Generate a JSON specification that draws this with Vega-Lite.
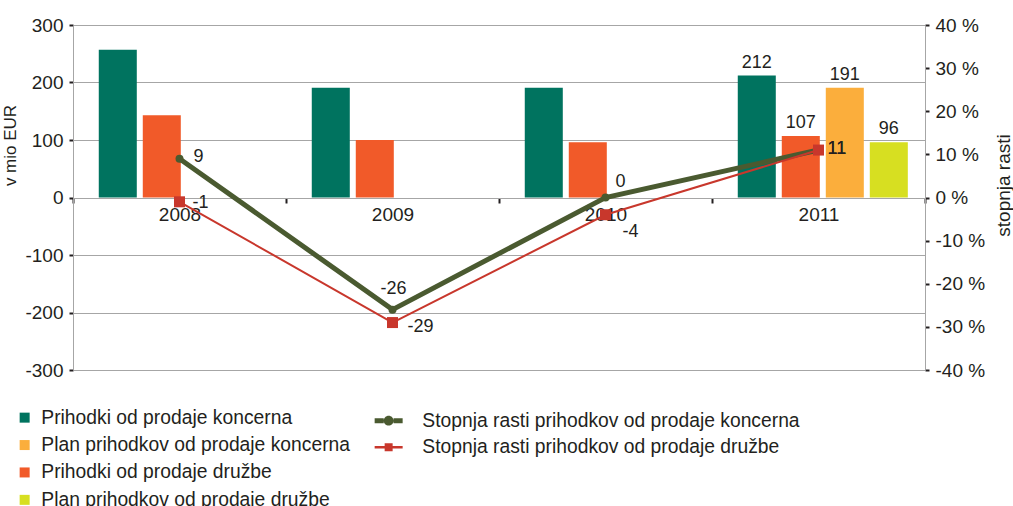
{
  "$schema": "https://vega.github.io/schema/vega-lite/v6.json",
  "width": 852,
  "height": 345,
  "autosize": {"type": "none"},
  "padding": {"left": 73, "top": 25, "right": 88, "bottom": 136},
  "background": "white",
  "config": {
    "font": "Liberation Sans",
    "view": {"stroke": null},
    "text": {"font": "Liberation Sans", "fontSize": 18, "color": "#231F20"},
    "axis": {"labelFont": "Liberation Sans", "titleFont": "Liberation Sans", "labelColor": "#231F20", "titleColor": "#231F20", "titleFontWeight": "normal"},
    "legend": {"labelFont": "Liberation Sans", "labelColor": "#231F20", "labelLimit": 0}
  },
  "datasets": {
    "bars": [
      {"year": "2008", "series": "Prihodki od prodaje koncerna", "value": 257},
      {"year": "2008", "series": "Prihodki od prodaje družbe", "value": 143},
      {"year": "2009", "series": "Prihodki od prodaje koncerna", "value": 191},
      {"year": "2009", "series": "Prihodki od prodaje družbe", "value": 100},
      {"year": "2010", "series": "Prihodki od prodaje koncerna", "value": 191},
      {"year": "2010", "series": "Prihodki od prodaje družbe", "value": 96},
      {"year": "2011", "series": "Prihodki od prodaje koncerna", "value": 212},
      {"year": "2011", "series": "Prihodki od prodaje družbe", "value": 107},
      {"year": "2011", "series": "Plan prihodkov od prodaje koncerna", "value": 191},
      {"year": "2011", "series": "Plan prihodkov od prodaje družbe", "value": 96}
    ],
    "growth": [
      {"year": "2008", "series": "Stopnja rasti prihodkov od prodaje koncerna", "value": 9},
      {"year": "2009", "series": "Stopnja rasti prihodkov od prodaje koncerna", "value": -26},
      {"year": "2010", "series": "Stopnja rasti prihodkov od prodaje koncerna", "value": 0},
      {"year": "2011", "series": "Stopnja rasti prihodkov od prodaje koncerna", "value": 11},
      {"year": "2008", "series": "Stopnja rasti prihodkov od prodaje družbe", "value": -1},
      {"year": "2009", "series": "Stopnja rasti prihodkov od prodaje družbe", "value": -29},
      {"year": "2010", "series": "Stopnja rasti prihodkov od prodaje družbe", "value": -4},
      {"year": "2011", "series": "Stopnja rasti prihodkov od prodaje družbe", "value": 11}
    ]
  },
  "encoding": {
    "x": {
      "field": "year", "type": "nominal",
      "scale": {"paddingInner": 0, "paddingOuter": 0},
      "axis": {
        "title": null, "offset": -172, "labelAngle": 0,
        "domainColor": "#A6A6A6", "domainWidth": 1,
        "tickBand": "extent", "tickColor": "#231F20", "tickSize": 5, "tickWidth": 2,
        "labelPadding": 2, "labelFontSize": 19, "grid": false
      }
    }
  },
  "layer": [
    {
      "data": {"name": "bars"},
      "encoding": {
        "y": {
          "field": "value", "type": "quantitative",
          "scale": {"domain": [-300, 300], "nice": false, "zero": false},
          "axis": {
            "title": "v mio EUR", "titleFontSize": 17, "titleY": 120, "titleX": -63, "titleBaseline": "middle", "titleAlign": "center",
            "values": [-300, -200, -100, 0, 100, 200, 300],
            "labelExpr": "'' + datum.value",
            "grid": true, "gridColor": "#A6A6A6", "gridWidth": 1,
            "domainColor": "#A6A6A6", "tickColor": "#231F20", "tickSize": 4, "tickWidth": 2,
            "labelPadding": 6, "labelFontSize": 19
          }
        },
        "xOffset": {
          "field": "series", "type": "nominal",
          "scale": {
            "domain": ["Prihodki od prodaje koncerna", "Prihodki od prodaje družbe", "Plan prihodkov od prodaje koncerna", "Plan prihodkov od prodaje družbe"],
            "paddingInner": 0.136, "paddingOuter": 0.488, "align": 0.6
          }
        }
      },
      "layer": [
        {
          "mark": {"type": "bar"},
          "encoding": {
            "color": {
              "field": "series", "type": "nominal",
              "scale": {
                "domain": ["Prihodki od prodaje koncerna", "Plan prihodkov od prodaje koncerna", "Prihodki od prodaje družbe", "Plan prihodkov od prodaje družbe"],
                "range": ["#00735F", "#FBAE3C", "#F15A29", "#D7DF21"]
              },
              "legend": {
                "orient": "none", "legendX": -58, "legendY": 383, "title": null,
                "direction": "vertical", "symbolType": "square", "symbolSize": 100,
                "symbolStrokeWidth": 0, "labelFontSize": 19.3, "labelOffset": 7, "rowPadding": 7.4, "labelLimit": 0
              }
            }
          }
        },
        {
          "transform": [{"filter": "datum.year == '2011'"}],
          "mark": {"type": "text", "baseline": "alphabetic", "dy": -8, "fontSize": 18},
          "encoding": {"text": {"field": "value", "type": "nominal"}}
        }
      ]
    },
    {
      "data": {"name": "growth"},
      "encoding": {
        "y": {
          "field": "value", "type": "quantitative",
          "scale": {"domain": [-40, 40], "nice": false, "zero": false},
          "axis": {
            "orient": "right", "title": "stopnja rasti", "titleFontSize": 19, "titleAngle": 270,
            "titleX": 78, "titleY": 160, "titleBaseline": "middle", "titleAlign": "center",
            "values": [-40, -30, -20, -10, 0, 10, 20, 30, 40],
            "labelExpr": "datum.value + ' %'",
            "grid": false, "domainColor": "#A6A6A6", "tickColor": "#231F20", "tickSize": 4, "tickWidth": 2,
            "labelPadding": 6, "labelFontSize": 19
          }
        }
      },
      "layer": [
        {
          "transform": [{"filter": "indexof(datum.series, 'koncerna') >= 0"}],
          "mark": {"type": "line", "strokeWidth": 5},
          "encoding": {
            "color": {
              "field": "series", "type": "nominal",
              "scale": {
                "domain": ["Stopnja rasti prihodkov od prodaje koncerna", "Stopnja rasti prihodkov od prodaje družbe"],
                "range": ["#4A5A30", "#C8372C"]
              },
              "legend": {
                "orient": "none", "legendX": 306, "legendY": 386, "title": null,
                "direction": "vertical", "symbolSize": 196, "labelFontSize": 19.3, "labelOffset": 24, "rowPadding": 6.5, "labelLimit": 0,
                "encode": {
                  "symbols": {
                    "update": {
                      "shape": {"signal": "indexof(datum.value, 'koncerna') >= 0 ? 'M-2,-0.36H-0.7V0.36H-2Z M0.7,-0.36H2V0.36H0.7Z M-0.7,0A0.7,0.7 0 1,1 0.7,0A0.7,0.7 0 1,1 -0.7,0Z' : 'M-2,-0.18H-0.57V0.18H-2Z M0.57,-0.18H2V0.18H0.57Z M-0.57,-0.57H0.57V0.57H-0.57Z'"},
                      "fill": {"signal": "indexof(datum.value, 'koncerna') >= 0 ? '#4A5A30' : '#C8372C'"},
                      "strokeWidth": {"value": 0},
                      "opacity": {"value": 1}
                    }
                  }
                }
              }
            }
          }
        },
        {
          "transform": [{"filter": "indexof(datum.series, 'družbe') >= 0"}],
          "mark": {"type": "line", "strokeWidth": 2},
          "encoding": {"color": {"field": "series", "type": "nominal"}}
        },
        {
          "transform": [{"filter": "indexof(datum.series, 'koncerna') >= 0"}],
          "mark": {"type": "point", "shape": "circle", "filled": true, "size": 64, "color": "#4A5A30", "opacity": 1}
        },
        {
          "transform": [{"filter": "indexof(datum.series, 'družbe') >= 0"}],
          "mark": {"type": "point", "shape": "square", "filled": true, "size": 121, "color": "#C8372C", "opacity": 1}
        },
        {
          "transform": [{"filter": "indexof(datum.series, 'koncerna') >= 0 && datum.year == '2008'"}],
          "mark": {"type": "text", "align": "left", "baseline": "middle", "dx": 14, "dy": -2, "fontSize": 18},
          "encoding": {"text": {"field": "value", "type": "nominal"}}
        },
        {
          "transform": [{"filter": "indexof(datum.series, 'koncerna') >= 0 && datum.year == '2009'"}],
          "mark": {"type": "text", "align": "center", "baseline": "middle", "dx": 1, "dy": -21, "fontSize": 18},
          "encoding": {"text": {"field": "value", "type": "nominal"}}
        },
        {
          "transform": [{"filter": "indexof(datum.series, 'koncerna') >= 0 && datum.year == '2010'"}],
          "mark": {"type": "text", "align": "left", "baseline": "middle", "dx": 10, "dy": -16, "fontSize": 18},
          "encoding": {"text": {"field": "value", "type": "nominal"}}
        },
        {
          "transform": [{"filter": "datum.year == '2011'"}],
          "mark": {"type": "text", "align": "left", "baseline": "middle", "dx": 9, "dy": -1, "fontSize": 18},
          "encoding": {"text": {"field": "value", "type": "nominal"}}
        },
        {
          "transform": [{"filter": "indexof(datum.series, 'družbe') >= 0 && datum.year == '2008'"}],
          "mark": {"type": "text", "align": "left", "baseline": "middle", "dx": 13, "dy": 1, "fontSize": 18},
          "encoding": {"text": {"field": "value", "type": "nominal"}}
        },
        {
          "transform": [{"filter": "indexof(datum.series, 'družbe') >= 0 && datum.year == '2009'"}],
          "mark": {"type": "text", "align": "left", "baseline": "middle", "dx": 15, "dy": 4, "fontSize": 18},
          "encoding": {"text": {"field": "value", "type": "nominal"}}
        },
        {
          "transform": [{"filter": "indexof(datum.series, 'družbe') >= 0 && datum.year == '2010'"}],
          "mark": {"type": "text", "align": "left", "baseline": "middle", "dx": 17, "dy": 17, "fontSize": 18},
          "encoding": {"text": {"field": "value", "type": "nominal"}}
        }
      ]
    }
  ],
  "resolve": {
    "scale": {"y": "independent", "color": "independent"},
    "axis": {"y": "independent"},
    "legend": {"color": "independent"}
  }
}
